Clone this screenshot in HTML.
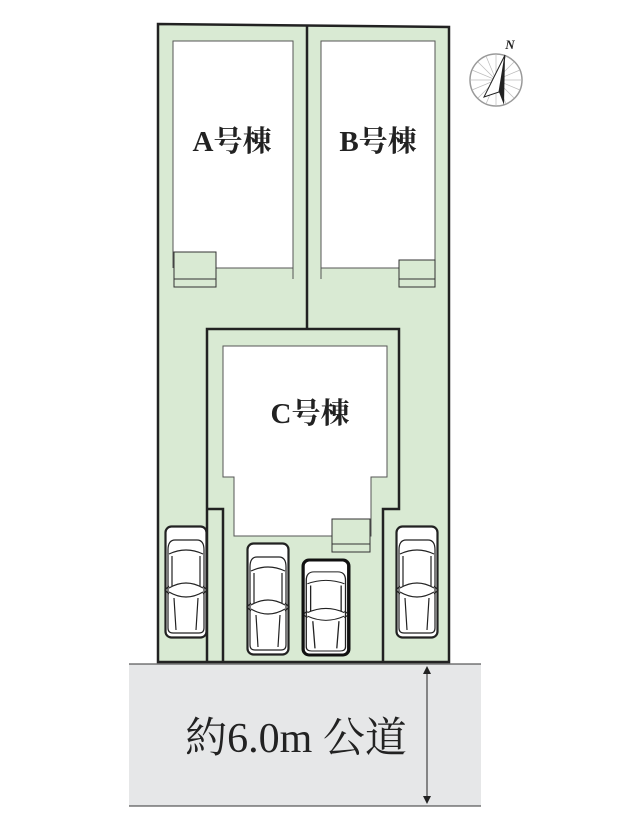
<!DOCTYPE html>
<html><head><meta charset="utf-8"><style>
html,body{margin:0;padding:0;background:#fff;}
svg{display:block;}
</style></head><body>
<svg width="639" height="832" viewBox="0 0 639 832" xmlns="http://www.w3.org/2000/svg">
<defs>
<g id="car" fill="none" stroke="#222" stroke-width="1.2">
  <rect x="0.5" y="0.5" width="41" height="111" rx="6" fill="#fff" stroke-width="2.2"/>
  <path d="M3 24 Q3 14 10 14 L32 14 Q39 14 39 24 L39 102 Q39 107 34 107 L8 107 Q3 107 3 102 Z" fill="#fff"/>
  <path d="M4 28 Q21 20 38 28"/>
  <path d="M7 30 L7 60 M35 30 L35 60"/>
  <path d="M4 62 Q21 52 38 62"/>
  <path d="M4 66 Q21 76 38 66"/>
  <path d="M9 72 L11 104 M33 72 L31 104"/>
  <path d="M4 60 L0 64 L4 68 M38 60 L42 64 L38 68"/>
</g>
</defs>
<!-- road -->
<rect x="129" y="664" width="352" height="142" fill="#e6e7e8"/>
<line x1="129" y1="664" x2="481" y2="664" stroke="#333" stroke-width="1"/>
<line x1="129" y1="806" x2="481" y2="806" stroke="#333" stroke-width="1"/>
<line x1="427" y1="672" x2="427" y2="798" stroke="#222" stroke-width="1"/>
<path d="M423 674 L427 666 L431 674 Z M423 796 L427 804 L431 796 Z" fill="#222"/>
<text x="296" y="752" text-anchor="middle" font-family="'Liberation Serif','Noto Serif CJK SC',serif" font-size="42" fill="#222">約6.0m 公道</text>
<!-- lot -->
<path d="M158 24 L449 27 L449 662 L158 662 Z" fill="#d9ead3" stroke="#222" stroke-width="2.5"/>
<line x1="307" y1="25" x2="307" y2="329" stroke="#222" stroke-width="2.5"/>
<path d="M207 662 L207 329 L399 329 L399 509 L383 509 L383 662 M207 509 L223 509 L223 662" fill="none" stroke="#222" stroke-width="2.5"/>
<!-- houses A B -->
<rect x="173" y="41" width="120" height="227" fill="#fff"/>
<path d="M173 268 L173 41 L293 41 L293 279 M216 268 L293 268" fill="none" stroke="#555" stroke-width="1"/>
<rect x="174" y="252" width="42" height="35" fill="#d9ead3" stroke="#333" stroke-width="1"/>
<line x1="174" y1="279" x2="216" y2="279" stroke="#333" stroke-width="1"/>
<rect x="321" y="41" width="114" height="227" fill="#fff"/>
<path d="M321 279 L321 41 L435 41 L435 260 M321 268 L399 268" fill="none" stroke="#555" stroke-width="1"/>
<rect x="399" y="260" width="36" height="27" fill="#d9ead3" stroke="#333" stroke-width="1"/>
<line x1="399" y1="279" x2="435" y2="279" stroke="#333" stroke-width="1"/>
<!-- house C -->
<path d="M223 346 L387 346 L387 477 L371 477 L371 536 L234 536 L234 477 L223 477 Z" fill="#fff" stroke="#555" stroke-width="1"/>
<rect x="332" y="519" width="38" height="33" fill="#d9ead3" stroke="#333" stroke-width="1"/>
<line x1="332" y1="544" x2="370" y2="544" stroke="#333" stroke-width="1"/>
<g font-family="'Liberation Serif','Noto Serif CJK SC',serif" font-size="29" font-weight="bold" fill="#222" text-anchor="middle">
<text x="232" y="151">A号棟</text>
<text x="378" y="151">B号棟</text>
<text x="310" y="423">C号棟</text>
</g>
<!-- cars -->
<use href="#car" x="165" y="526"/>
<use href="#car" x="247" y="543"/>
<use href="#car" transform="translate(303,560) scale(1.09,0.85)"/>
<rect x="303" y="560" width="46" height="95" rx="6" fill="none" stroke="#111" stroke-width="3"/>
<use href="#car" x="396" y="526"/>
<!-- compass -->
<g transform="translate(496,80)">
<circle r="26" fill="#fff" stroke="#999" stroke-width="1.5"/>
<g stroke="#bbb" stroke-width="0.7">
<line x1="-26" y1="0" x2="26" y2="0"/><line x1="0" y1="-26" x2="0" y2="26"/>
<line x1="-18" y1="-18" x2="18" y2="18"/><line x1="-18" y1="18" x2="18" y2="-18"/>
<line x1="-24" y1="-10" x2="24" y2="10"/><line x1="-24" y1="10" x2="24" y2="-10"/>
<line x1="-10" y1="-24" x2="10" y2="24"/><line x1="-10" y1="24" x2="10" y2="-24"/>
</g>
<path d="M9 -25 L-12 17 L3 12 Z" fill="#fff" stroke="#222" stroke-width="1"/>
<path d="M9 -25 L3 12 L8 25 Z" fill="#222"/>
</g>
<text x="510" y="49" font-family="'Liberation Serif',serif" font-style="italic" font-weight="bold" font-size="13" fill="#222" text-anchor="middle">N</text>
</svg>
</body></html>
